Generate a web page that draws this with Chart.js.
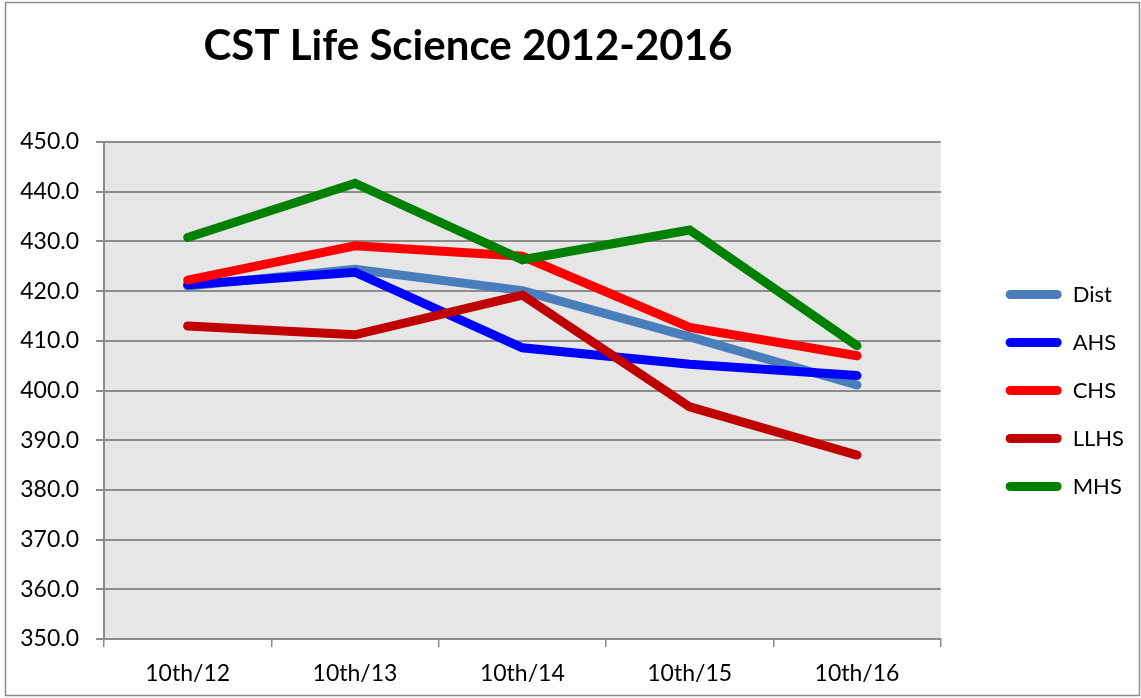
<!DOCTYPE html>
<html>
<head>
<meta charset="utf-8">
<script src="https://cdn.jsdelivr.net/npm/chart.js@4.4.1/dist/chart.umd.min.js"></script>
<style>
  html, body { margin: 0; padding: 0; background: #fff; }
  #wrap { width: 1141px; height: 698px; position: relative; }
</style>
</head>
<body>
<div id="wrap"><canvas id="lifeChart" width="1141" height="698"></canvas></div>
<script>
// Chart data
const chartTitle = 'CST Life Science 2012-2016';
const categories = ['10th/12', '10th/13', '10th/14', '10th/15', '10th/16'];
const seriesNames = ['Dist', 'AHS', 'CHS', 'LLHS', 'MHS'];
const distScores = [421.0, 424.4, 420.1, 410.8, 401.1];
const ahsScores = [421.3, 423.8, 408.6, 405.3, 403.0];
const chsScores = [422.2, 429.1, 427.0, 412.7, 407.0];
const llhsScores = [413.0, 411.2, 419.2, 396.7, 387.0];
const mhsScores = [430.8, 441.7, 426.3, 432.3, 409.0];
const yTicks = [350, 360, 370, 380, 390, 400, 410, 420, 430, 440, 450];

const seriesColors = ['#4a7ebb', '#0000ff', '#ff0000', '#c00000', '#008000'];
const seriesValues = [distScores, ahsScores, chsScores, llhsScores, mhsScores];

const FONT = 'Lato, "Open Sans", "DejaVu Sans", sans-serif';

const ctx = document.getElementById('lifeChart').getContext('2d');

// grey plot background, outer frame and the title
const frameAndTitle = {
    id: 'frameAndTitle',
    beforeDraw(chart) {
        const { ctx, chartArea } = chart;
        ctx.save();
        ctx.fillStyle = '#e6e6e6';
        ctx.fillRect(chartArea.left, chartArea.top, chartArea.right - chartArea.left, chartArea.bottom - chartArea.top);
        ctx.restore();
    },
    afterDraw(chart) {
        const { ctx } = chart;
        ctx.save();
        ctx.strokeStyle = '#8c8c8c';
        ctx.lineWidth = 1.5;
        ctx.strokeRect(5.5, 2.5, 1134, 693);
        ctx.fillStyle = '#000';
        ctx.font = 'bold 42px ' + FONT;
        ctx.textAlign = 'center';
        ctx.textBaseline = 'alphabetic';
        ctx.fillText(chartTitle, 468, 60);
        ctx.restore();
    }
};

const datasets = seriesNames.map((name, i) => ({
    label: name,
    data: seriesValues[i],
    borderColor: seriesColors[i],
    backgroundColor: seriesColors[i],
    borderWidth: 9,
    borderCapStyle: 'round',
    pointRadius: 0,
    pointHoverRadius: 0,
    tension: 0,
    fill: false,
    order: seriesNames.length - i // later series drawn on top, like Excel
}));

new Chart(ctx, {
    type: 'line',
    data: { labels: categories, datasets },
    options: {
        responsive: false,
        animation: false,
        layout: { padding: { top: 142, left: 0, right: 7, bottom: 0 } },
        plugins: {
            title: { display: false },
            tooltip: { enabled: false },
            legend: {
                position: 'right',
                fullSize: false, // only as tall as the plot, so it centres on it
                labels: {
                    color: '#000',
                    font: { family: FONT, size: 22 },
                    boxWidth: 56,
                    boxHeight: 9,
                    padding: 26,
                    useBorderRadius: true,
                    borderRadius: 4.5,
                    sort: (a, b) => a.datasetIndex - b.datasetIndex,
                    generateLabels(chart) {
                        const items = Chart.defaults.plugins.legend.labels.generateLabels(chart);
                        items.forEach(it => { it.lineWidth = 0; it.strokeStyle = 'rgba(0,0,0,0)'; });
                        return items;
                    }
                }
            }
        },
        scales: {
            x: {
                offset: true,
                grid: { display: true, drawOnChartArea: false, drawTicks: true, tickLength: 8, color: '#8c8c8c', lineWidth: 1.5, offset: true },
                border: { display: true, color: '#8c8c8c', width: 2 },
                ticks: { color: '#000', font: { family: FONT, size: 23 }, padding: 13, maxRotation: 0 },
                afterFit(s) { s.height = 59; }
            },
            y: {
                min: 350,
                max: 450,
                afterBuildTicks(s) { s.ticks = yTicks.map(v => ({ value: v })); },
                grid: { color: '#8c8c8c', lineWidth: 2, tickLength: 8 },
                border: { display: true, color: '#8c8c8c', width: 2 },
                ticks: { color: '#000', font: { family: FONT, size: 23 }, padding: 17, callback: v => Number(v).toFixed(1) },
                afterFit(s) { s.width = 104; }
            },
            spacer: {
                position: 'right',
                display: true,
                grid: { display: false },
                border: { display: false },
                ticks: { display: false },
                afterFit(s) { s.width = 39; }
            }
        }
    },
    plugins: [frameAndTitle]
});
</script>
</body>
</html>
